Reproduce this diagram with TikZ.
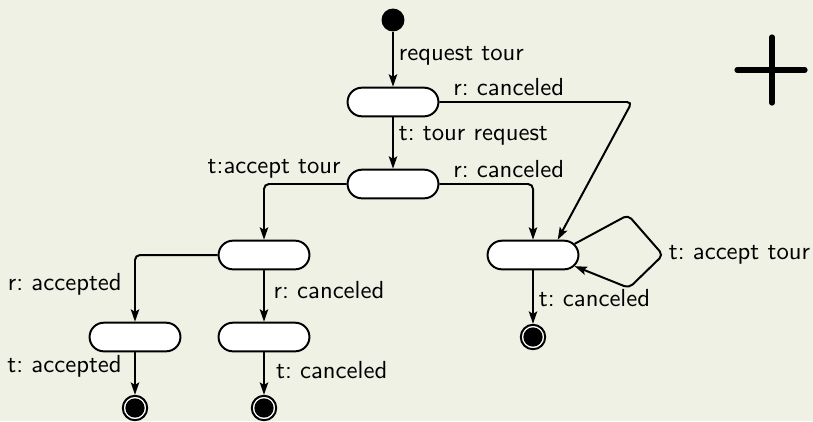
\documentclass[tikz,border=0pt]{standalone}
\usetikzlibrary{shapes.misc,arrows.meta}
\definecolor{bgcol}{RGB}{238,241,228}
\tikzset{
  state/.style={rounded rectangle,draw,fill=white,line width=.8pt,
    minimum width=36.8pt,minimum height=11.6pt,inner sep=0pt},
  initial/.style={circle,fill=black,minimum size=9.3pt,inner sep=0pt},
  final/.style={circle,draw,line width=.8pt,fill=white,minimum size=9.9pt,inner sep=0pt,
    path picture={\fill[black] (path picture bounding box.center) circle (3.9pt);}},
  conn/.style={line width=.8pt,-{Stealth[length=5pt,width=3.4pt,inset=1pt]},rounded corners=2pt},
  lbl/.style={font=\sffamily\frenchspacing,inner sep=2pt}
}
\begin{document}
\begin{tikzpicture}[x=.405pt,y=-.405pt]
      \fill[bgcol] (0,0) rectangle (813,421);
      \useasboundingbox (0,0) rectangle (813,421);

      \node[initial] (0) at (393,20) {};
      \begin{scope}[every node/.style={state}]
        \node (1) at (393,102) {};
        \node (2) at (393,184) {};
        \node (3) at (264,255) {};
        \node (4) at (135,337) {};
        \node (5) at (264,337) {};
        \node (6) at (533,255) {};
      \end{scope}
      \begin{scope}[every node/.style={final}]
        \node (7) at (135,408) {};
        \node (8) at (264,408) {};
        \node (9) at (533,337) {};
      \end{scope}

      \coordinate (c1) at (632,102);
      \coordinate (l1) at (628,215);
      \coordinate (l2) at (663,255);
      \coordinate (l3) at (629,288);

      \begin{scope}[every node/.style={lbl}]
        \begin{scope}[every edge/.style={draw,conn}]
          \path (0) edge node[pos=.44,right] {request tour} (1);
          \path (1) edge node[pos=.36,right] {t: tour request} (2);
          \path (3) edge node[pos=.38,right=1.5pt] {r: canceled} (5);
          \path (4) edge node[pos=.34,left=3pt] {t: accepted} (7);
          \path (5) edge node[pos=.41,right=2.5pt] {t: canceled} (8);
          \path (6) edge node[pos=.52,right] {t: canceled} (9);
        \end{scope}
        \draw[conn] (1.east) -- node[pos=.36,above] {r: canceled} (c1) -- ([xshift=10pt]6.north);
        \draw[conn] (2) -| node[pos=.37,above] {r: canceled} (6);
        \draw[conn] (2) -| node[pos=0,anchor=south east] {t:accept tour} (3);
        \draw[conn] (3) -| node[pos=.72,left=3pt] {r: accepted} (4);
        \draw[conn] (6.15) -- (l1) -- (l2) node[right] {t: accept tour} -- (l3) -- (6.-15);
      \end{scope}

      % plus sign
      \draw[line width=2.1pt,line cap=round] (737,70) -- (805,70) (772,37) -- (772,103);

    \end{tikzpicture}
\end{document}
